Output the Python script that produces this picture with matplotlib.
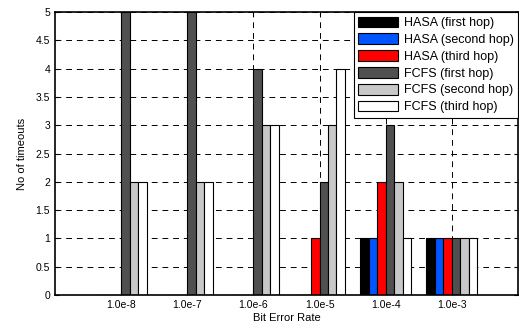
import numpy as np
import matplotlib
matplotlib.use('Agg')
import matplotlib.pyplot as plt

plt.rcParams['font.family'] = ['Liberation Sans', 'DejaVu Sans']

# Datos
ber_labels = ['1.0e-8', '1.0e-7', '1.0e-6', '1.0e-5', '1.0e-4', '1.0e-3']
series_names = ['HASA (first hop)', 'HASA (second hop)', 'HASA (third hop)',
                'FCFS (first hop)', 'FCFS (second hop)', 'FCFS (third hop)']
hasa_first = [0, 0, 0, 0, 1, 1]
hasa_second = [0, 0, 0, 0, 1, 1]
hasa_third = [0, 0, 0, 1, 2, 1]
fcfs_first = [5, 5, 4, 2, 3, 1]
fcfs_second = [2, 2, 3, 3, 2, 1]
fcfs_third = [2, 2, 3, 4, 1, 1]
colors = ['#000000', '#0055ff', '#ff0000', '#505050', '#c8c8c8', '#ffffff']

series = [hasa_first, hasa_second, hasa_third, fcfs_first, fcfs_second, fcfs_third]

fig = plt.figure(figsize=(5.19, 3.28), dpi=100)
ax = fig.add_axes([0.106, 0.101, 0.892, 0.862])

x = np.arange(1, len(ber_labels) + 1)
w = 0.128
for i, (vals, name, c) in enumerate(zip(series, series_names, colors)):
    ax.bar(x + (i - 2.5) * w, vals, w, color=c, edgecolor='black',
           linewidth=0.8, label=name, zorder=2)

ax.set_xlim(0, 7)
ax.set_ylim(0, 5)
ax.set_xticks(x)
ax.set_xticklabels(ber_labels)
ax.set_yticks(np.arange(0, 5.01, 0.5))
ax.set_yticklabels(['0', '0.5', '1', '1.5', '2', '2.5', '3', '3.5', '4', '4.5', '5'])
ax.tick_params(direction='in', labelsize=7.5, length=3, top=True, right=True)
ax.grid(True, linestyle=(0, (6, 5)), color='black', linewidth=0.7)
ax.set_axisbelow(True)
for s in ax.spines.values():
    s.set_linewidth(1.2)

ax.set_xlabel('Bit Error Rate', fontsize=8, labelpad=2)
ax.set_ylabel('No of timeouts', fontsize=8, labelpad=6)

leg = ax.legend(loc='upper right', fontsize=9, fancybox=False, framealpha=1,
                edgecolor='black', handlelength=3.2, handleheight=0.95,
                borderaxespad=0, labelspacing=0.33, handletextpad=0.45,
                borderpad=0.35)
leg.get_frame().set_linewidth(0.8)

plt.savefig('out.png', dpi=100)
